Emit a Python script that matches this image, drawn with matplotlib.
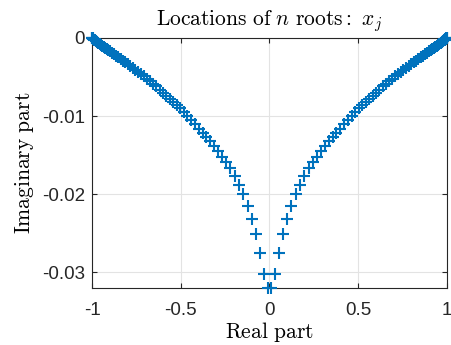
import matplotlib
matplotlib.use("Agg")
import matplotlib.pyplot as plt

# right half of the roots, left half is its mirror
real_right = [0.010, 0.033, 0.054, 0.076, 0.100, 0.123, 0.147, 0.172, 0.197, 0.221,
              0.2437, 0.2663, 0.2889, 0.3112, 0.3334, 0.3554, 0.3773, 0.3989, 0.4203, 0.4414,
              0.4623, 0.4830, 0.5034, 0.5235, 0.5433, 0.5629, 0.5821, 0.6010, 0.6195, 0.6377,
              0.6555, 0.6730, 0.6902, 0.7071, 0.7234, 0.7396, 0.7552, 0.7703, 0.7850, 0.7993,
              0.8131, 0.8265, 0.8394, 0.8520, 0.8640, 0.8755, 0.8867, 0.8973, 0.9074, 0.9170,
              0.9261, 0.9347, 0.9428, 0.9503, 0.9574, 0.9639, 0.9699, 0.9753, 0.9802, 0.9846,
              0.9884, 0.9917, 0.9944, 0.9966, 0.9983, 0.9994, 0.9999]
imag_right = [-0.0320, -0.0302, -0.0275, -0.0251, -0.0232, -0.0215, -0.0200, -0.0188, -0.0177, -0.0167,
              -0.0159, -0.0152, -0.0145, -0.0138, -0.0132, -0.0127, -0.0121, -0.0116, -0.0110, -0.0105,
              -0.0100, -0.0095, -0.0090, -0.0086, -0.0082, -0.0078, -0.0074, -0.0070, -0.0066, -0.0062,
              -0.0059, -0.0055, -0.0052, -0.0049, -0.0046, -0.0043, -0.0041, -0.0038, -0.0036, -0.0033,
              -0.0031, -0.0029, -0.0027, -0.0025, -0.0023, -0.0021, -0.0019, -0.0017, -0.0016, -0.0014,
              -0.0013, -0.0011, -0.0010, -0.00084, -0.00072, -0.00061, -0.00051, -0.00042, -0.00034, -0.00026,
              -0.00020, -0.00014, -0.00010, -0.00006, -0.00003, -0.00001, 0.0]

x_ticks = [-1, -0.5, 0, 0.5, 1]
x_labels = ["-1", "-0.5", "0", "0.5", "1"]
y_ticks = [-0.03, -0.02, -0.01, 0]
y_labels = ["-0.03", "-0.02", "-0.01", "0"]


def main():
    plt.rcParams["mathtext.fontset"] = "cm"
    plt.rcParams["font.family"] = ["Liberation Sans", "DejaVu Sans"]

    re = [-v for v in reversed(real_right)] + real_right
    im = list(reversed(imag_right)) + imag_right

    fig = plt.figure(figsize=(4.51, 3.45), dpi=100)
    ax = fig.add_axes([0.204, 0.165, 0.787, 0.725])
    ax.plot(re, im, linestyle="none", marker="+", markersize=8,
            markeredgewidth=1.5, color="#0072BD", clip_on=False, zorder=3)

    ax.set_xlim(-1, 1)
    ax.set_ylim(min(im), 0)
    ax.set_xticks(x_ticks)
    ax.set_xticklabels(x_labels)
    ax.set_yticks(y_ticks)
    ax.set_yticklabels(y_labels)
    ax.tick_params(direction="in", length=3.5, width=0.8, labelsize=13.5,
                   top=True, right=True, colors="#262626")
    ax.tick_params(axis="x", pad=10)
    ax.tick_params(axis="y", pad=5)
    ax.grid(True, color="#e3e3e3", linewidth=0.8)
    ax.set_axisbelow(True)
    for s in ax.spines.values():
        s.set_color("#262626")
        s.set_linewidth(0.8)

    ax.set_xlabel(r"$\mathrm{Real\ part}$", fontsize=15.5, labelpad=1)
    ax.set_ylabel(r"$\mathrm{Imaginary\ part}$", fontsize=15.5, labelpad=4)
    ax.set_title(r"$\mathrm{Locations\ of\ }n\mathrm{\ roots{:}\ }x_j$", fontsize=15.5, pad=9)

    fig.savefig("out.png", dpi=100)


if __name__ == "__main__":
    main()
